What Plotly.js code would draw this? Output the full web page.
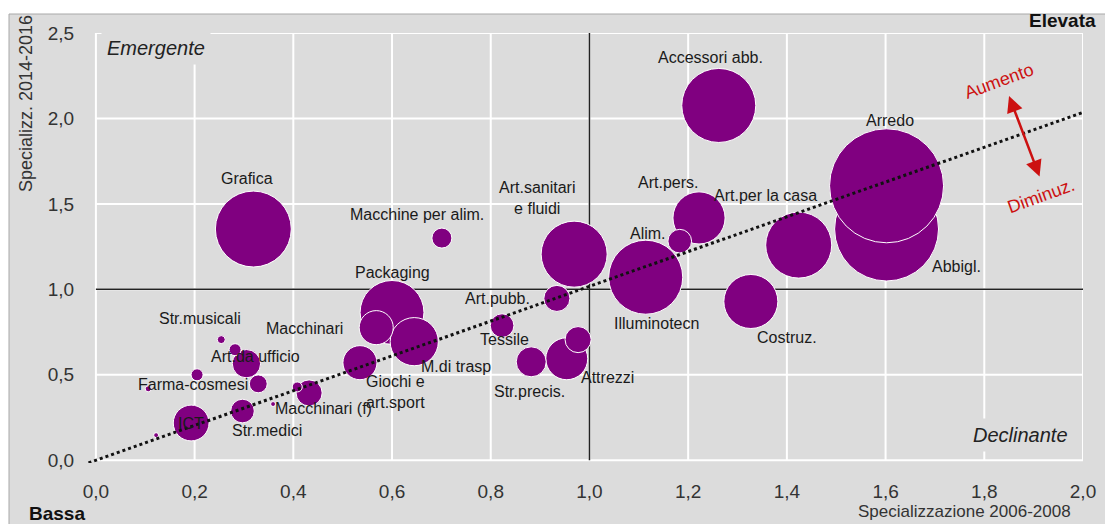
<!DOCTYPE html>
<html><head><meta charset="utf-8">
<script src="https://cdn.plot.ly/plotly-3.0.1.min.js"></script>
<style>html,body{margin:0;padding:0;background:#fff}#chart{width:1105px;height:524px}</style>
</head><body><div id="chart"></div>
<script>
// ---- data ----
const settori = ["Abbigl.","Arredo","Grafica","Accessori abb.","Illuminotecn","Art.per la casa","Art.sanitari<br>e fluidi","Packaging","Costruz.","Art.pers.","M.di trasp","Attrezzi","ICT","Macchinari","Giochi e<br>art.sport","Str.precis.","Art.da ufficio","Art.pubb.","","","Tessile","Alim.","Str.medici","Macchine per alim.","","","","","Str.musicali","Farma-cosmesi","Macchinari (f)",""];
const spec0608 = [1.602,1.602,0.319,1.262,1.114,1.424,0.969,0.600,1.327,1.222,0.645,0.954,0.193,0.568,0.535,0.882,0.305,0.934,0.977,0.432,0.823,1.183,0.297,0.701,0.329,0.282,0.205,0.408,0.254,0.106,0.359,0.122];
const spec1416 = [1.353,1.606,1.353,2.076,1.071,1.259,1.206,0.865,0.929,1.418,0.694,0.594,0.218,0.776,0.571,0.576,0.565,0.947,0.706,0.394,0.788,1.282,0.288,1.300,0.447,0.647,0.500,0.429,0.706,0.418,0.329,0.147];
const peso = [270,325,144,137,137,109,109,102,73,68,58,44,32,29,29,22.5,20,17,17,17,14,14,14,10,8,3.6,3.6,2.5,1.6,0.9,0.6,0.6];
const xTicks = [0,0.2,0.4,0.6,0.8,1.0,1.2,1.4,1.6,1.8,2.0];
const yTicks = [0,0.5,1.0,1.5,2.0,2.5];
const soglia = 1.0;
const trendX = [-0.015, 2.0];
const trendY = [-0.015, 2.035];

// ---- label placement (pixel offsets from bubble centre) ----
const labelOffsets = [[70,37],[3,-65],[-6,-51],[-8,-48],[11,46],[-33,-50],[-37,-56],[0,-40],[36,36],[-31,-35],[42,25],[41,19],[0,0],[-72,1],[36,29],[-2,30],[9,-7],[-59,0],null,null,[2,14],[-32,-8],[25,19],[-25,-24],null,null,null,null,[-21,-21],[45,-4],[50,4],null];

const FONT = "Liberation Sans, Arial, sans-serif";
const BG = "#dcdcdc";
const maxDiam = 114;

const bubbles = {
  type: "scatter", mode: "markers", x: spec0608, y: spec1416, hoverinfo: "skip",
  marker: {size: peso, sizemode: "area", sizeref: 2*Math.max(...peso)/(maxDiam*maxDiam),
           color: "#800080", opacity: 1, line: {color: "#ffffff", width: 1}}
};
const trend = {type: "scatter", mode: "lines", x: trendX, y: trendY, hoverinfo: "skip",
  line: {color: "#111111", width: 3, dash: "dot"}};

const px = v => (v - 88) / 995, py = v => (463 - v) / 430;

const shapes = [{type:"rect", xref:"paper", yref:"paper", x0:px(9), x1:px(1106), y0:py(525), y1:py(14),
  fillcolor: BG, line:{color:"#a8a8a8", width:1}, layer:"below"}];
xTicks.forEach(t => shapes.push({type:"line", xref:"x", yref:"y", x0:t, x1:t, y0:yTicks[0], y1:yTicks[yTicks.length-1], line:{color:"#ffffff", width:2}, layer:"below"}));
yTicks.forEach(t => shapes.push({type:"line", xref:"x", yref:"y", y0:t, y1:t, x0:xTicks[0], x1:xTicks[xTicks.length-1], line:{color:"#ffffff", width:2}, layer:"below"}));
shapes.push({type:"line", xref:"x", yref:"y", x0:soglia, x1:soglia, y0:yTicks[0], y1:yTicks[yTicks.length-1], line:{color:"#222", width:1.5}, layer:"below"});
shapes.push({type:"line", xref:"x", yref:"y", y0:soglia, y1:soglia, x0:xTicks[0], x1:xTicks[xTicks.length-1], line:{color:"#222", width:1.5}, layer:"below"});

const annotations = [];
settori.forEach((s, i) => {
  const o = labelOffsets[i];
  if (!s || !o) return;
  annotations.push({x: spec0608[i], y: spec1416[i], xref:"x", yref:"y", text: s, showarrow:false,
    xshift: o[0], yshift: -o[1], font:{family:FONT, size:16, color:"#1a1a1a"}, align:"center"});
});
annotations.push(
  {xref:"x", yref:"y", x:0.01, y:2.41, xanchor:"left", yanchor:"middle", text:"<i>Emergente</i>", showarrow:false,
   bgcolor:BG, borderpad:5, font:{family:FONT, size:20, color:"#222"}},
  {xref:"x", yref:"y", x:1.982, y:0.147, xanchor:"right", yanchor:"middle", text:"<i>Declinante</i>", showarrow:false,
   bgcolor:BG, borderpad:5, font:{family:FONT, size:20, color:"#222"}},
  {xref:"paper", yref:"paper", x:px(26), y:py(104), xanchor:"center", yanchor:"middle", textangle:-90,
   text:"Specializz. 2014-2016", showarrow:false, font:{family:FONT, size:18, color:"#333"}},
  {xref:"paper", yref:"paper", x:px(1073), y:py(511), xanchor:"right", yanchor:"middle",
   text:"Specializzazione 2006-2008", showarrow:false, font:{family:FONT, size:17, color:"#333"}},
  {xref:"paper", yref:"paper", x:px(1098), y:py(20), xanchor:"right", yanchor:"middle",
   text:"<b>Elevata</b>", showarrow:false, font:{family:FONT, size:19, color:"#111"}},
  {xref:"paper", yref:"paper", x:px(27), y:py(513), xanchor:"left", yanchor:"middle",
   text:"<b>Bassa</b>", showarrow:false, font:{family:FONT, size:19, color:"#111"}},
  {xref:"x", yref:"y", x:1.83, y:2.218, text:"Aumento", textangle:-20, showarrow:false,
   font:{family:FONT, size:18, color:"#cc1111"}},
  {xref:"x", yref:"y", x:1.915, y:1.547, text:"Diminuz.", textangle:-20, showarrow:false,
   font:{family:FONT, size:18, color:"#cc1111"}},
  {xref:"x", yref:"y", axref:"x", ayref:"y", x:1.912, y:1.66, ax:1.849, ay:2.14, text:"", showarrow:true,
   arrowside:"end+start", arrowhead:2, startarrowhead:2, arrowsize:1.3, startarrowsize:1.3, arrowwidth:2.5,
   arrowcolor:"#cc1111", standoff:0, startstandoff:0}
);

const layout = {
  width:1105, height:524, margin:{l:88, r:22, t:33, b:61},
  paper_bgcolor:"#ffffff", plot_bgcolor:BG, separators:",.", showlegend:false,
  font:{family:FONT, color:"#222"},
  xaxis:{range:[-0.016, 2.0], tickvals:xTicks, tickformat:".1f", showgrid:false, zeroline:false, showline:false,
         ticks:"outside", ticklen:11, tickcolor:"rgba(0,0,0,0)", tickfont:{family:FONT, size:19, color:"#333"}, fixedrange:true},
  yaxis:{range:[-0.016, 2.5], tickvals:yTicks, tickformat:".1f", showgrid:false, zeroline:false, showline:false,
         ticks:"outside", ticklen:9, tickcolor:"rgba(0,0,0,0)", tickfont:{family:FONT, size:19, color:"#333"}, fixedrange:true},
  shapes: shapes, annotations: annotations
};
Plotly.newPlot("chart", [bubbles, trend], layout, {displayModeBar:false, staticPlot:true});
</script></body></html>
